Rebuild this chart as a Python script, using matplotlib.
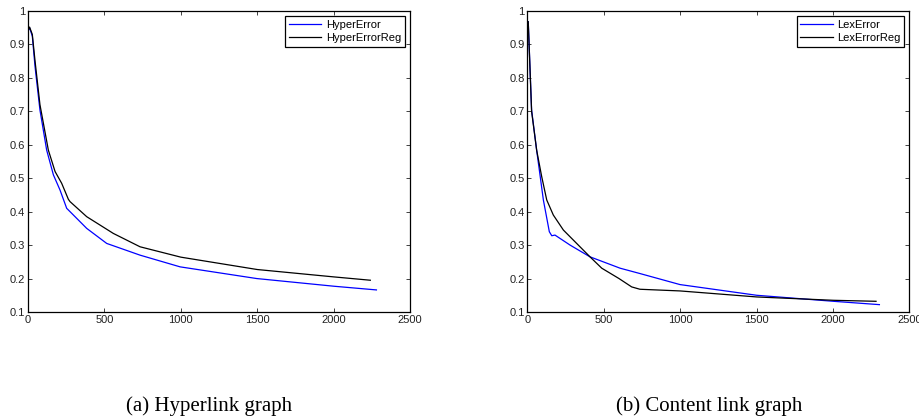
import numpy as np
import matplotlib
matplotlib.use('Agg')
from matplotlib import pyplot as plt

# left panel: hyperlink graph
hyper_x = [0, 10, 28, 46, 78, 122, 166, 209, 253, 275, 384, 515, 733, 995, 1497, 2003, 2280]
hyper_err = [0.94, 0.95, 0.925, 0.833, 0.704, 0.584, 0.51, 0.465, 0.41, 0.40, 0.35, 0.305, 0.27, 0.235, 0.200, 0.177, 0.166]
hypreg_x = [0, 10, 28, 46, 78, 133, 177, 220, 264, 275, 384, 558, 733, 1000, 1500, 2000, 2240]
hyper_reg = [0.94, 0.952, 0.93, 0.85, 0.72, 0.584, 0.52, 0.485, 0.437, 0.43, 0.385, 0.335, 0.295, 0.264, 0.227, 0.205, 0.195]

# right panel: content link graph
lex_x = [6, 28, 61, 105, 144, 160, 181, 214, 280, 410, 607, 737, 999, 1501, 2003, 2304]
lex_err = [0.968, 0.704, 0.584, 0.435, 0.34, 0.328, 0.33, 0.32, 0.30, 0.265, 0.231, 0.215, 0.182, 0.15, 0.132, 0.122]
lexreg_x = [6, 28, 61, 94, 127, 170, 236, 323, 410, 487, 600, 683, 737, 999, 1501, 2003, 2282]
lex_reg = [0.968, 0.70, 0.584, 0.505, 0.435, 0.39, 0.345, 0.305, 0.265, 0.231, 0.20, 0.175, 0.168, 0.163, 0.145, 0.135, 0.132]

xticks = [0, 500, 1000, 1500, 2000, 2500]
yticks = [0.1, 0.2, 0.3, 0.4, 0.5, 0.6, 0.7, 0.8, 0.9, 1]

plt.rcParams['font.family'] = ['Liberation Sans', 'DejaVu Sans']

fig = plt.figure(figsize=(9.19, 4.17), dpi=100)
ax1 = fig.add_axes([0.0305, 0.2518, 0.4157, 0.7218])
ax2 = fig.add_axes([0.5738, 0.2518, 0.4157, 0.7218])

panels = [
    (ax1, hyper_x, hyper_err, hypreg_x, hyper_reg, 'HyperError', 'HyperErrorReg'),
    (ax2, lex_x, lex_err, lexreg_x, lex_reg, 'LexError', 'LexErrorReg'),
]

for ax, x1, y1, x2, y2, n1, n2 in panels:
    ax.plot(x1, y1, color='#0000ff', lw=0.9, label=n1)
    ax.plot(x2, y2, color='black', lw=0.9, label=n2)
    ax.set_xlim(0, 2500)
    ax.set_ylim(0.1, 1)
    ax.set_xticks(xticks)
    ax.set_yticks(yticks)
    ax.set_yticklabels(['0.1', '0.2', '0.3', '0.4', '0.5', '0.6', '0.7', '0.8', '0.9', '1'])
    ax.tick_params(direction='in', top=True, right=True, labelsize=8, length=3,
                   width=0.6, pad=2, colors='#222222')
    for s in ax.spines.values():
        s.set_linewidth(0.9)
    leg = ax.legend(loc='upper right', fontsize=8, fancybox=False,
                    edgecolor='black', framealpha=1, borderpad=0.35,
                    handlelength=2.9, handletextpad=0.4, labelspacing=0.3,
                    borderaxespad=0.45)
    leg.get_frame().set_linewidth(0.9)

fig.text(0.228, 0.0144, '(a) Hyperlink graph', ha='center', va='baseline',
         family=['Liberation Serif', 'DejaVu Serif'], fontsize=15)
fig.text(0.772, 0.0144, '(b) Content link graph', ha='center', va='baseline',
         family=['Liberation Serif', 'DejaVu Serif'], fontsize=15)

fig.savefig('out.png', dpi=100)
